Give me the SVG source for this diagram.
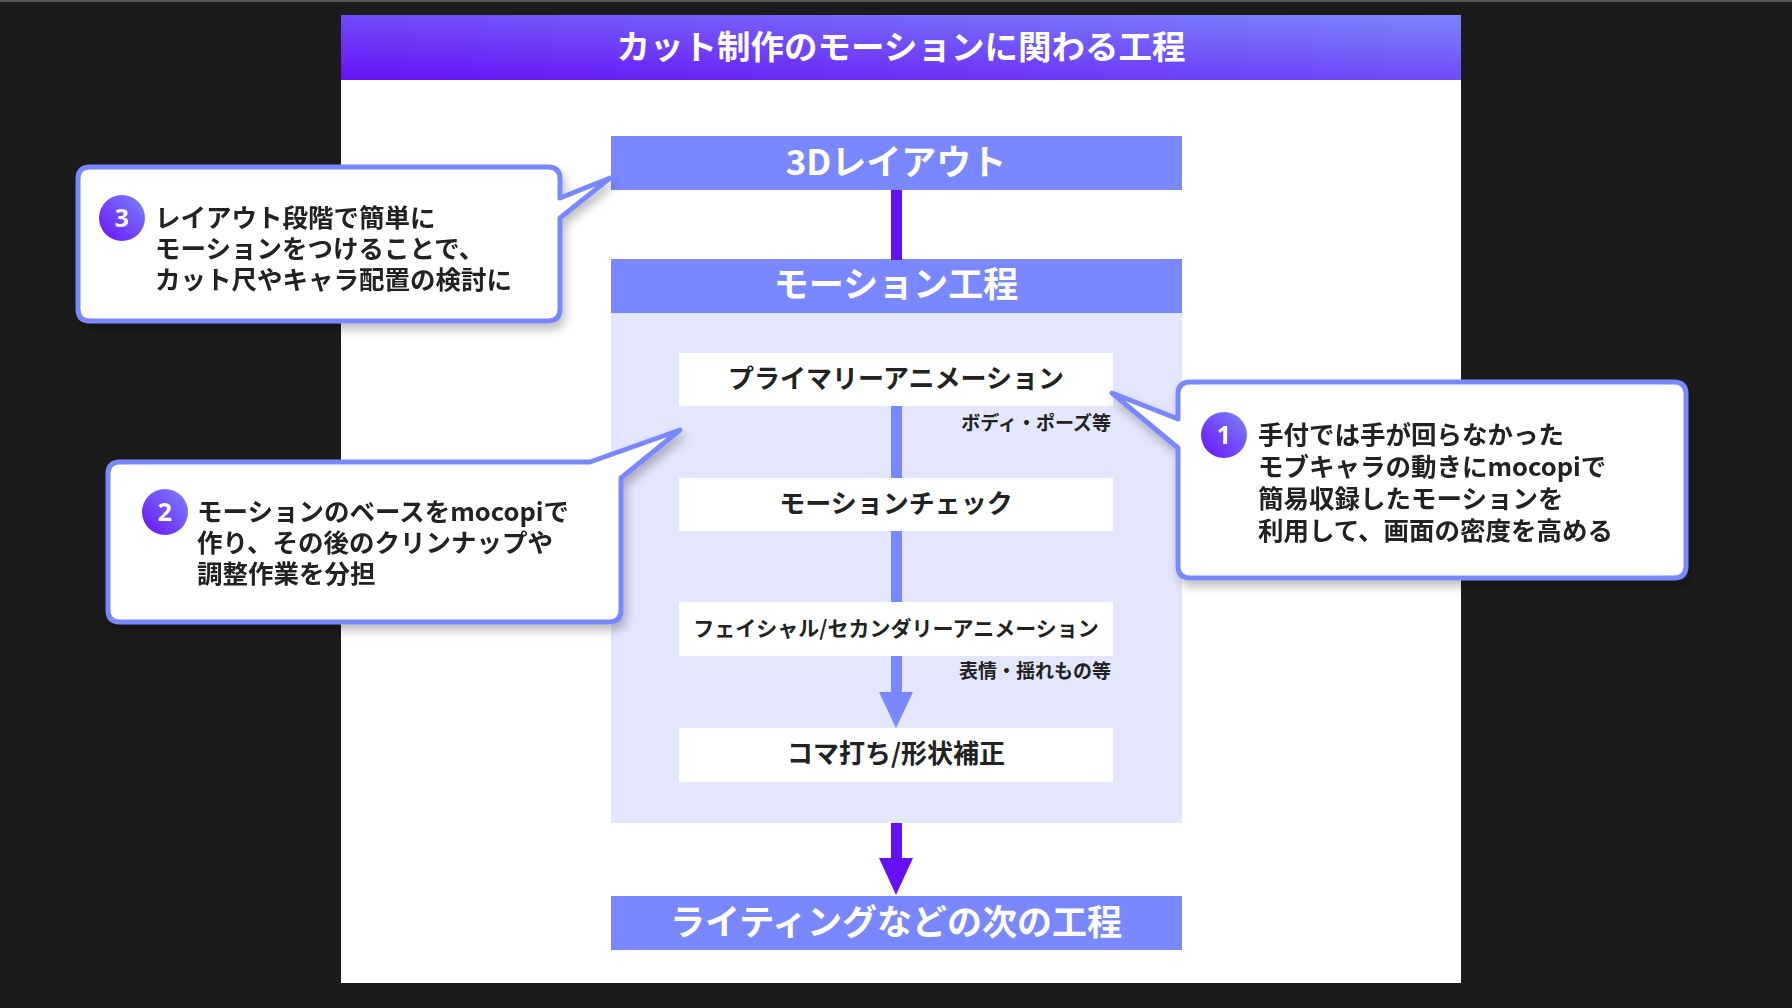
<svg xmlns="http://www.w3.org/2000/svg" width="1792" height="1008" viewBox="0 0 1792 1008">
<defs>
<linearGradient id="hdr" x1="0" y1="1" x2="1" y2="0"><stop offset="0" stop-color="#6610f5"/><stop offset="1" stop-color="#7b86fb"/></linearGradient>
<linearGradient id="badge" x1="0" y1="1" x2="1" y2="0"><stop offset="0" stop-color="#6a10f5"/><stop offset="1" stop-color="#7b86ff"/></linearGradient>
<filter id="sh" x="-10%" y="-10%" width="130%" height="130%"><feDropShadow dx="3" dy="6" stdDeviation="5" flood-color="#000" flood-opacity="0.25"/></filter>
<style>
text{font-family:"Noto Sans CJK JP","Noto Sans",sans-serif;font-weight:bold}
.bx{fill:#7a88ff}
.bt{fill:#fff;font-size:35px;text-anchor:middle}
.st{fill:#222;font-size:26px;text-anchor:middle}
.fs{font-size:21px}
.nt{fill:#222;font-size:19px;text-anchor:end}
.ct{fill:#222;font-size:25.5px}
.co{fill:#fff;stroke:#7a88ff;stroke-width:5;stroke-linejoin:round}
.bn{fill:#fff;font-size:25px;text-anchor:middle;font-family:"Noto Sans",sans-serif}
</style>
</defs>
<rect width="1792" height="1008" fill="#1b1b1b"/>
<rect width="1792" height="2" fill="#555"/>
<rect x="341" y="15" width="1120" height="968" fill="#fff"/>
<g id="title"><rect x="341" y="15" width="1120" height="65" fill="url(#hdr)"/>
<text x="901" y="59" fill="#fff" font-size="33.5" text-anchor="middle">カット制作のモーションに関わる工程</text></g>

<g id="motion"><rect x="611" y="312" width="571" height="511" fill="#e3e6fc"/><rect class="bx" x="611" y="259" width="571" height="54"/><text class="bt" x="896" y="297">モーション工程</text></g>

<g id="connectors">
<rect x="891" y="190" width="11" height="70" fill="#6610f5"/>
<rect x="891" y="406" width="11" height="290" fill="#7a88ff"/>
<polygon points="879,692 913,692 896,728" fill="#7a88ff"/>
<rect x="891" y="823" width="11" height="40" fill="#6610f5"/>
<polygon points="879,858 913,858 896,895" fill="#6610f5"/>
</g>

<g id="layout3d"><rect class="bx" x="611" y="136" width="571" height="54"/><text class="bt" x="896" y="175">3Dレイアウト</text></g>
<g id="primary"><rect x="679" y="353" width="434" height="53" fill="#fff"/><text class="st" x="896" y="388">プライマリーアニメーション</text><text class="nt" x="1111" y="430">ボディ・ポーズ等</text></g>
<g id="check"><rect x="679" y="478" width="434" height="53" fill="#fff"/><text class="st" x="896" y="513">モーションチェック</text></g>
<g id="facial"><rect x="679" y="602" width="434" height="54" fill="#fff"/><text class="st fs" x="896" y="636">フェイシャル/セカンダリーアニメーション</text><text class="nt" x="1111" y="678">表情・揺れもの等</text></g>
<g id="koma"><rect x="679" y="728" width="434" height="54" fill="#fff"/><text class="st" x="896" y="763">コマ打ち/形状補正</text></g>
<g id="next"><rect class="bx" x="611" y="896" width="571" height="54"/><text class="bt" x="896" y="935">ライティングなどの次の工程</text></g>

<g id="callout3" filter="url(#sh)">
<path class="co" d="M90,167 H548 Q560,167 560,179 V198 L610,178 L560,218 V309 Q560,321 548,321 H90 Q78,321 78,309 V179 Q78,167 90,167 Z"/>
<circle cx="122" cy="218" r="23" fill="url(#badge)"/><text class="bn" x="122" y="227">3</text>
<text class="ct" x="155" y="227">レイアウト段階で簡単に</text>
<text class="ct" x="155" y="258">モーションをつけることで、</text>
<text class="ct" x="155" y="289">カット尺やキャラ配置の検討に</text>
</g>
<g id="callout2" filter="url(#sh)">
<path class="co" d="M120,462 H590 L680,430 L621,478 V610 Q621,622 609,622 H120 Q108,622 108,610 V474 Q108,462 120,462 Z"/>
<circle cx="165" cy="512" r="23" fill="url(#badge)"/><text class="bn" x="165" y="521">2</text>
<text class="ct" x="197" y="521">モーションのベースをmocopiで</text>
<text class="ct" x="197" y="552">作り、その後のクリンナップや</text>
<text class="ct" x="197" y="583">調整作業を分担</text>
</g>
<g id="callout1" filter="url(#sh)">
<path class="co" d="M1190,382 H1674 Q1686,382 1686,394 V566 Q1686,578 1674,578 H1190 Q1178,578 1178,566 V448 L1112,393 L1178,419 V394 Q1178,382 1190,382 Z"/>
<circle cx="1224" cy="435" r="23" fill="url(#badge)"/><text class="bn" x="1224" y="444">1</text>
<text class="ct" x="1258" y="444">手付では手が回らなかった</text>
<text class="ct" x="1258" y="476">モブキャラの動きにmocopiで</text>
<text class="ct" x="1258" y="508">簡易収録したモーションを</text>
<text class="ct" x="1258" y="540">利用して、画面の密度を高める</text>
</g>
</svg>
